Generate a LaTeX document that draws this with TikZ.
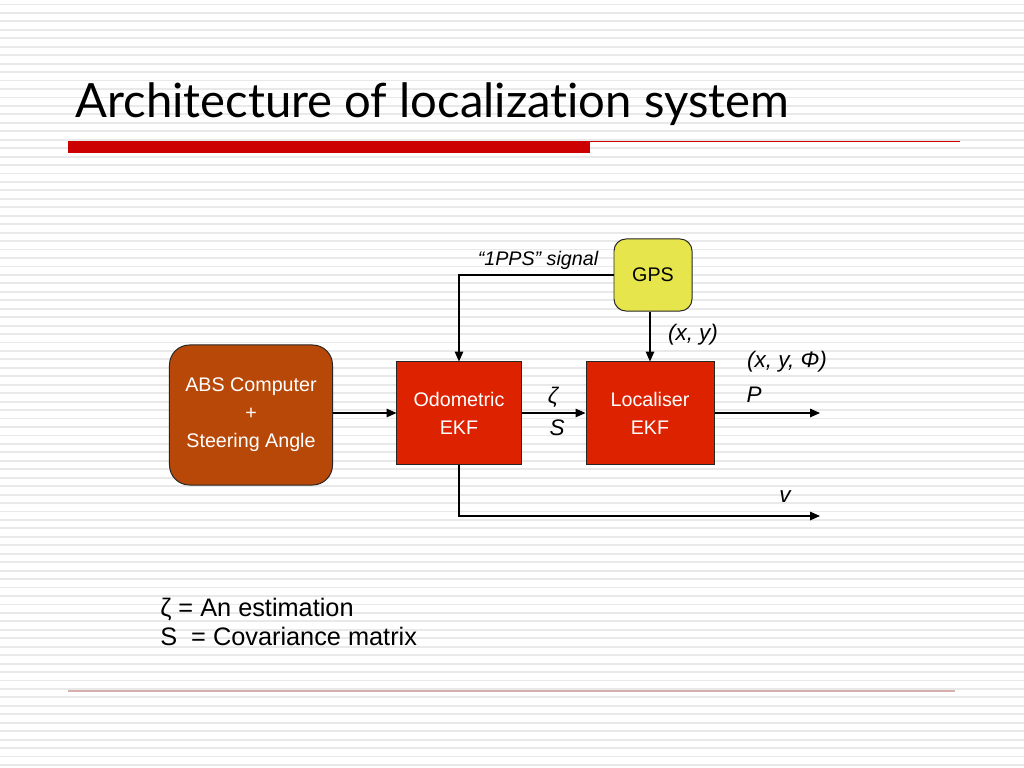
\documentclass[tikz,border=0pt]{standalone}
\usepackage{fontspec}
\setmainfont{Liberation Sans}
\newfontfamily\titlefont[Ligatures=NoCommon]{Lato}
\usetikzlibrary{arrows.meta}
\definecolor{absbrown}{RGB}{184,72,8}
\definecolor{ekfred}{RGB}{221,34,0}
\definecolor{gpsyellow}{RGB}{230,230,76}
\definecolor{barred}{RGB}{204,0,0}
\definecolor{stripegray}{RGB}{233,233,233}
\definecolor{footline}{RGB}{214,176,176}
\tikzset{
  block/.style={draw=black!85, line width=0.7pt, inner sep=0pt, align=center,
    font=\fontsize{14}{20}\selectfont},
  ekf/.style={block, fill=ekfred, text=white, minimum height=2.55cm},
  lbl/.style={font=\fontsize{16}{19}\selectfont\itshape, inner sep=0pt},
  flow/.style={->, line width=0.9pt},
}
\begin{document}
\begin{tikzpicture}[x=0.025cm,y=-0.025cm,>={Triangle[length=7pt,width=6pt]}]
    \useasboundingbox (0,0) rectangle (1024,768);
    \fill[white] (0,0) rectangle (1024,768);
    % Background stripes
    \foreach \k in {0,...,90}
      \draw[stripegray,line width=1.3pt] (0,4.5+8.45*\k) -- (1024,4.5+8.45*\k);
    % Title and rules
    \node[anchor=base west,inner sep=0pt,font=\titlefont\fontsize{33.6}{40}\selectfont]
      (title) at (75,118) {Architecture of localization system};
    \fill[barred] (68,141) rectangle (590,153);
    \draw[barred,line width=0.6pt] (590,141.5) -- (960,141.5);
    \draw[footline,line width=0.8pt] (68,691) -- (955,691);
    % Blocks
    \node[block, fill=absbrown, text=white, rounded corners=0.5cm,
      minimum width=4.075cm, minimum height=3.5cm] (abs) at (251,415)
      {ABS Computer\\+\\Steering Angle};
    \node[ekf, minimum width=3.1cm] (odo) at (459,413) {Odometric\\EKF};
    \node[ekf, minimum width=3.2cm] (loc) at (650,413) {Localiser\\EKF};
    \node[block, fill=gpsyellow, rounded corners=0.3cm,
      minimum width=1.95cm, minimum height=1.8cm] (gps) at (653,275) {GPS};
    % Free ends
    \coordinate (pend) at (820,413);
    \coordinate (vend) at (820,516);
    % Connectors
    \draw[flow] (abs.east |- odo.west) -- (odo.west);
    \draw[flow] (gps.west) -| (odo.north);
    \draw[flow] (gps.south -| loc.north) -- (loc.north);
    \draw[flow] (odo.east) -- (loc.west);
    \draw[flow] (loc.east) -- (pend);
    \draw[flow] (odo.south) |- (vend);
    % Labels
    \node[lbl, font=\fontsize{14}{17}\selectfont\itshape] (pps) at (538,260) {“1PPS” signal};
    \node[lbl] (xy) at (693,335) {(x, y)};
    \node[lbl] (xyphi) at (787,362) {(x, y, Φ)};
    \node[lbl] (p) at (754,395) {P};
    \node[lbl] (zeta) at (553,397) {ζ};
    \node[lbl] (s) at (557,428) {S};
    \node[lbl] (v) at (785,497) {v};
    % Legend
    \node[anchor=base west, inner sep=0pt, align=left,
      font=\fontsize{18}{20}\selectfont] (legend) at (160,645)
      {ζ = An estimation\\S\ \ = Covariance matrix};
\end{tikzpicture}
\end{document}
